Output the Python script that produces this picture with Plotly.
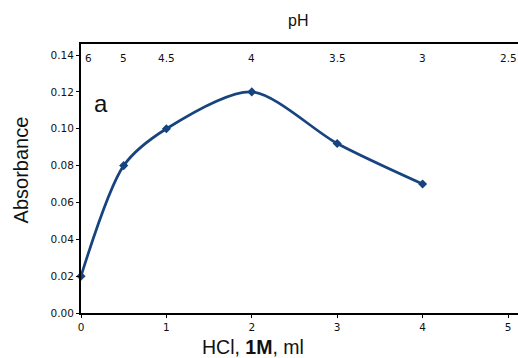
import plotly.graph_objects as go

hcl_ml = [0, 0.5, 1, 2, 3, 4]
absorbance = [0.02, 0.08, 0.10, 0.12, 0.092, 0.07]
x_ticks = [0, 1, 2, 3, 4, 5]
y_ticks = [0.00, 0.02, 0.04, 0.06, 0.08, 0.10, 0.12, 0.14]
ph_pos = [0, 0.5, 1, 2, 3, 4, 5]
ph_labels = ["6", "5", "4.5", "4", "3.5", "3", "2.5"]

line_color = "#17437f"
tick_font = dict(family="DejaVu Sans", size=10.5, color="#111")

fig = go.Figure()
fig.add_trace(go.Scatter(
    x=hcl_ml, y=absorbance, mode="lines+markers",
    line=dict(color=line_color, width=2.7, shape="spline", smoothing=0.8),
    marker=dict(symbol="diamond", size=7, color=line_color),
    showlegend=False, cliponaxis=False,
))

for p, lab in zip(ph_pos, ph_labels):
    fig.add_annotation(x=p, y=1, xref="x", yref="paper", text=lab,
                       showarrow=False, yanchor="top", xanchor="center",
                       yshift=-6, xshift=7 if p == 0 else 0,
                       font=tick_font)

fig.add_annotation(x=0.046, y=0.835, xref="paper", yref="paper", text="a",
                   showarrow=False, xanchor="center",
                   font=dict(family="Liberation Sans", size=24, color="#111"))

# axis titles
fig.add_annotation(x=0.394, y=0, xref="paper", yref="paper", text="HCl, <b>1M</b>, ml",
                   showarrow=False, yanchor="top", yshift=-21,
                   font=dict(family="Liberation Sans", size=19.5, color="#111"))
fig.add_annotation(x=0, y=0.53, xref="paper", yref="paper", text="Absorbance",
                   showarrow=False, textangle=-90, xanchor="center", xshift=-60,
                   font=dict(family="Liberation Sans", size=20, color="#111"))
fig.add_annotation(x=0.496, y=1, xref="paper", yref="paper", text="pH",
                   showarrow=False, yanchor="bottom", yshift=13,
                   font=dict(family="Liberation Sans", size=16, color="#111"))

fig.update_layout(
    width=518, height=358,
    margin=dict(l=81, r=0, t=44, b=45),
    paper_bgcolor="white", plot_bgcolor="white",
    xaxis=dict(range=[0, 5.117], tickvals=x_ticks, ticktext=[str(v) for v in x_ticks],
               showline=True, linecolor="black", linewidth=2, mirror=True,
               ticks="outside", ticklen=3, tickcolor="black", showgrid=False, zeroline=False,
               tickfont=tick_font),
    yaxis=dict(range=[0, 0.146], tickvals=y_ticks, tickformat=".2f",
               showline=True, linecolor="black", linewidth=2,
               ticks="outside", ticklen=3, tickcolor="black", showgrid=False, zeroline=False,
               tickfont=tick_font),
)

fig.write_html("out.html")
